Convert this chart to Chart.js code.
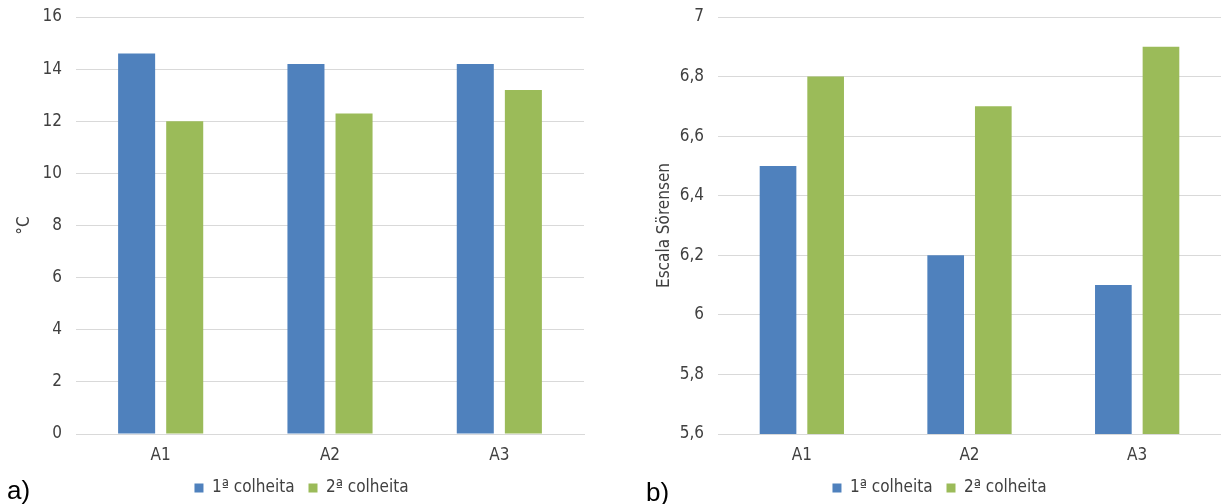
<!DOCTYPE html>
<html><head><meta charset="utf-8">
<script src="https://cdn.jsdelivr.net/npm/chart.js@4/dist/chart.umd.min.js"></script>
<style>
html,body{margin:0;padding:0;background:#fff;overflow:hidden;width:1221px;height:504px;position:relative;}
.wrap{position:absolute;top:0;height:504px;width:600px;}
#w1{left:0;}
#w2{left:640px;}
.lab{position:absolute;font-family:"Liberation Sans",Arial,sans-serif;font-size:26px;color:#000;line-height:1;}
</style></head>
<body>
<div class="wrap" id="w1"><canvas id="c1" width="600" height="504"></canvas></div>
<div class="wrap" id="w2"><canvas id="c2" width="600" height="504"></canvas></div>
<div class="lab" style="left:7px;top:477px;">a)</div>
<div class="lab" style="left:646px;top:479px;">b)</div>
<script>
const categories = ['A1', 'A2', 'A3'];
const seriesNames = ['1ª colheita', '2ª colheita'];
const tempHarvest1 = [14.6, 14.2, 14.2];
const tempHarvest2 = [12.0, 12.3, 13.2];
const sorensenHarvest1 = [6.5, 6.2, 6.1];
const sorensenHarvest2 = [6.8, 6.7, 6.9];
const tempAxis = { min: 0, max: 16, step: 2, title: '°C' };
const sorensenAxis = { min: 5.6, max: 7, step: 0.2, title: 'Escala Sörensen' };

const BLUE = '#4F81BD', GREEN = '#9BBB59', GRID = '#d9d9d9', TXT = '#404040';
const FONT = { family: '"Liberation Sans Narrow","DejaVu Sans Condensed","Liberation Sans",sans-serif', size: 17 };

function fmt(v) { return String(+Number(v).toFixed(1)).replace('.', ','); }

function makeChart(id, h1, h2, axis, padLeft, padRight, axisWidth, titlePad) {
  new Chart(document.getElementById(id), {
    type: 'bar',
    data: {
      labels: categories,
      datasets: [
        { label: seriesNames[0], data: h1, backgroundColor: BLUE, barPercentage: 0.77, categoryPercentage: 0.568 },
        { label: seriesNames[1], data: h2, backgroundColor: GREEN, barPercentage: 0.77, categoryPercentage: 0.568 }
      ]
    },
    options: {
      responsive: false,
      animation: false,
      layout: { padding: { left: padLeft, right: padRight, top: 17, bottom: 0 } },
      plugins: {
        tooltip: { enabled: false },
        legend: {
          position: 'bottom',
          maxHeight: 38.6,
          labels: { boxWidth: 9, boxHeight: 9, padding: 14, color: TXT, font: FONT }
        }
      },
      scales: {
        x: {
          grid: { display: false, drawTicks: false },
          border: { display: true, color: GRID },
          ticks: { padding: 11, color: TXT, font: FONT },
          afterFit: s => { s.height = 31.4; s.paddingLeft = 0; s.paddingRight = 0; }
        },
        y: {
          min: axis.min, max: axis.max,
          ticks: { stepSize: axis.step, padding: 14, color: TXT, font: FONT, callback: v => fmt(v) },
          grid: { color: GRID, drawTicks: false },
          border: { display: false },
          title: { display: true, text: axis.title, color: TXT, font: Object.assign({}, FONT, { lineHeight: 0.7 }), padding: { top: titlePad, bottom: 0 } },
          afterFit: s => { s.width = axisWidth; s.paddingTop = 0; s.paddingBottom = 0; }
        }
      }
    }
  });
}
makeChart('c1', tempHarvest1, tempHarvest2, tempAxis, 19, 16, 57, 0);
makeChart('c2', sorensenHarvest1, sorensenHarvest2, sorensenAxis, 18, 19, 60, 1);
</script>
</body></html>
